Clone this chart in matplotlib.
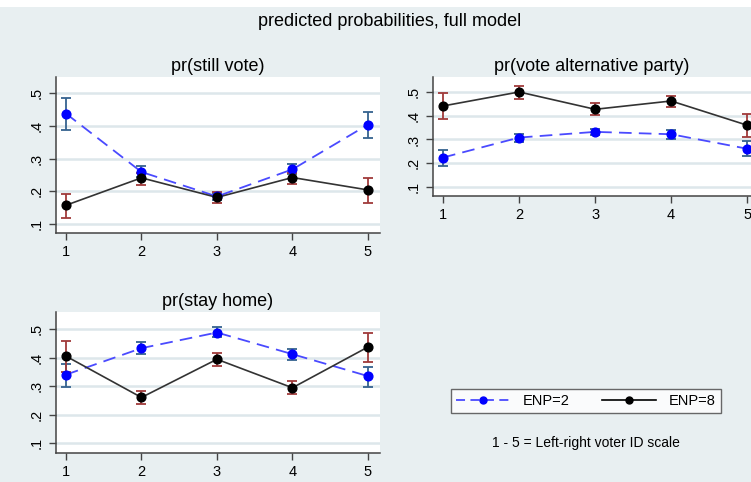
import matplotlib
matplotlib.use("Agg")
import matplotlib.pyplot as plt
from matplotlib.lines import Line2D

plt.rcParams['font.family'] = ['Liberation Sans', 'DejaVu Sans']

BG = '#e8eff1'
GRID = '#dde7eb'
BLUE = '#0000ff'
BLUE_LINE = '#4a4aff'
BLUE_ERR = '#35628f'
BLACK = '#000000'
BLACK_LINE = '#333333'
RED_ERR = '#a03a3a'

scale = [1, 2, 3, 4, 5]

# pr(still vote)
still_enp2 = [0.438, 0.259, 0.184, 0.267, 0.404]
still_enp2_lo = [0.388, 0.244, 0.174, 0.252, 0.364]
still_enp2_hi = [0.485, 0.276, 0.195, 0.284, 0.443]
still_enp8 = [0.157, 0.241, 0.181, 0.242, 0.204]
still_enp8_lo = [0.119, 0.219, 0.164, 0.222, 0.164]
still_enp8_hi = [0.193, 0.257, 0.197, 0.257, 0.242]

# pr(vote alternative party)
alt_enp2 = [0.224, 0.308, 0.332, 0.322, 0.261]
alt_enp2_lo = [0.190, 0.290, 0.318, 0.304, 0.230]
alt_enp2_hi = [0.256, 0.325, 0.345, 0.340, 0.294]
alt_enp8 = [0.441, 0.500, 0.427, 0.462, 0.360]
alt_enp8_lo = [0.385, 0.472, 0.403, 0.437, 0.309]
alt_enp8_hi = [0.497, 0.527, 0.452, 0.485, 0.409]

# pr(stay home)
home_enp2 = [0.340, 0.433, 0.488, 0.412, 0.335]
home_enp2_lo = [0.298, 0.412, 0.471, 0.391, 0.298]
home_enp2_hi = [0.379, 0.453, 0.506, 0.431, 0.367]
home_enp8 = [0.405, 0.260, 0.394, 0.294, 0.437]
home_enp8_lo = [0.350, 0.238, 0.372, 0.273, 0.385]
home_enp8_hi = [0.459, 0.283, 0.415, 0.319, 0.488]

yticks = [0.1, 0.2, 0.3, 0.4, 0.5]
ytick_labels = ['.1', '.2', '.3', '.4', '.5']


def draw_panel(ax, title, e2, e2lo, e2hi, e8, e8lo, e8hi, xlim, ylim):
    ax.set_facecolor('white')
    for y in yticks:
        ax.axhline(y, color=GRID, lw=1.8, zorder=0)

    # blue series: ENP=2
    ax.plot(scale, e2, color=BLUE_LINE, lw=1.3, ls=(0, (7, 4)), zorder=2)
    ax.errorbar(scale, e2,
                yerr=[[v - l for v, l in zip(e2, e2lo)], [h - v for v, h in zip(e2, e2hi)]],
                fmt='none', ecolor=BLUE_ERR, elinewidth=1.3, capsize=3.5, capthick=1.3, zorder=3)
    ax.plot(scale, e2, 'o', color=BLUE, ms=6.3, zorder=4)

    # black series: ENP=8
    ax.plot(scale, e8, color=BLACK_LINE, lw=1.2, zorder=2)
    ax.errorbar(scale, e8,
                yerr=[[v - l for v, l in zip(e8, e8lo)], [h - v for v, h in zip(e8, e8hi)]],
                fmt='none', ecolor=RED_ERR, elinewidth=1.3, capsize=3.5, capthick=1.3, zorder=3)
    ax.plot(scale, e8, 'o', color=BLACK, ms=6.3, zorder=4)

    ax.set_xlim(*xlim)
    ax.set_ylim(*ylim)
    ax.set_xticks(scale)
    ax.set_yticks(yticks)
    ax.set_yticklabels(ytick_labels, rotation=90, va='center')
    ax.tick_params(axis='both', labelsize=10.5, color='#444444', length=5, width=1)
    ax.tick_params(axis='y', pad=4)
    for side in ['top', 'right']:
        ax.spines[side].set_visible(False)
    for side in ['left', 'bottom']:
        ax.spines[side].set_color('#444444')
        ax.spines[side].set_linewidth(1.1)
    ax.set_title(title, fontsize=13, pad=4)


fig = plt.figure(figsize=(7.51, 4.82), dpi=100)
fig.patch.set_facecolor(BG)

# thin white strip along the top border
fig.add_artist(plt.Rectangle((0, 1 - 7 / 482), 1, 7 / 482, transform=fig.transFigure,
                             facecolor='white', edgecolor='none'))

ax1 = fig.add_axes([56 / 751, 1 - 233 / 482, 324 / 751, 156 / 482])
ax2 = fig.add_axes([433 / 751, 1 - 196 / 482, 318 / 751, 119 / 482])
ax3 = fig.add_axes([56 / 751, 1 - 453 / 482, 324 / 751, 141 / 482])

draw_panel(ax1, 'pr(still vote)', still_enp2, still_enp2_lo, still_enp2_hi,
           still_enp8, still_enp8_lo, still_enp8_hi, (0.868, 5.16), (0.072, 0.55))
draw_panel(ax2, 'pr(vote alternative party)', alt_enp2, alt_enp2_lo, alt_enp2_hi,
           alt_enp8, alt_enp8_lo, alt_enp8_hi, (0.868, 5.05), (0.062, 0.563))
draw_panel(ax3, 'pr(stay home)', home_enp2, home_enp2_lo, home_enp2_hi,
           home_enp8, home_enp8_lo, home_enp8_hi, (0.868, 5.16), (0.065, 0.56))

fig.text(390 / 751, 1 - 22 / 482, 'predicted probabilities, full model',
         ha='center', va='center', fontsize=13)

handles = [
    Line2D([], [], color=BLUE_LINE, lw=1.3, ls=(0, (5, 3)), marker='o', ms=5,
           mfc=BLUE, mec=BLUE),
    Line2D([], [], color=BLACK, lw=1.2, marker='o', ms=5, mfc=BLACK, mec=BLACK),
]
leg = fig.legend(handles, ['ENP=2', 'ENP=8'], ncol=2, loc='center',
                 bbox_to_anchor=(586 / 751, 1 - 401 / 482), fontsize=10.5,
                 handlelength=3.7, handletextpad=0.9, columnspacing=2.2,
                 borderpad=0.35, frameon=True, fancybox=False)
leg.get_frame().set_edgecolor('#444444')
leg.get_frame().set_linewidth(1.0)
leg.get_frame().set_facecolor('white')

fig.text(586 / 751, 1 - 443 / 482, '1 - 5 = Left-right voter ID scale',
         ha='center', va='center', fontsize=10)

fig.savefig('out.png', dpi=100, facecolor=BG)
